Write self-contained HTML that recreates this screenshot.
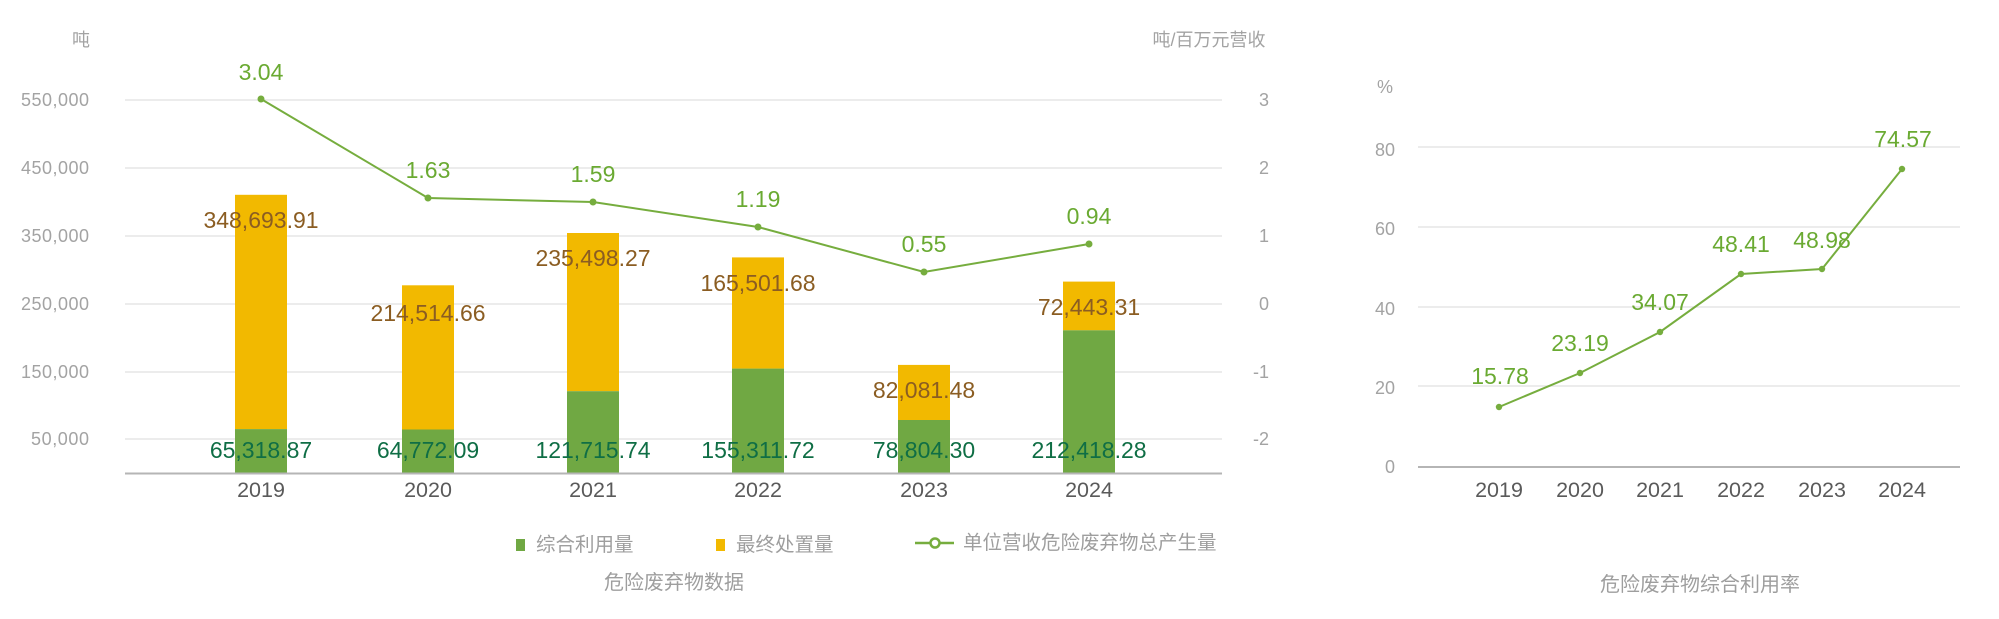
<!DOCTYPE html>
<html><head><meta charset="utf-8"><style>
html,body{margin:0;padding:0;background:#fff;}
svg{display:block;}
text{font-family:"Liberation Sans","Noto Sans CJK SC",sans-serif;}
</style></head><body>
<svg width="1999" height="619" viewBox="0 0 1999 619" xmlns="http://www.w3.org/2000/svg">
<rect width="1999" height="619" fill="#fff"/>
<!-- LEFT CHART gridlines -->
<g stroke="#e6e6e6" stroke-width="1.5">
<line x1="125" y1="100" x2="1222" y2="100"/>
<line x1="125" y1="168" x2="1222" y2="168"/>
<line x1="125" y1="236" x2="1222" y2="236"/>
<line x1="125" y1="304" x2="1222" y2="304"/>
<line x1="125" y1="372" x2="1222" y2="372"/>
<line x1="125" y1="439" x2="1222" y2="439"/>
</g>
<!-- left axis labels -->
<g fill="#a3a3a3" font-size="18" text-anchor="end" dominant-baseline="central">
<text x="90" y="40" font-family="Noto Sans CJK SC, sans-serif">吨</text>
<text x="89" y="100" textLength="68" lengthAdjust="spacing">550,000</text>
<text x="89" y="168" textLength="68" lengthAdjust="spacing">450,000</text>
<text x="89" y="236" textLength="68" lengthAdjust="spacing">350,000</text>
<text x="89" y="304" textLength="68" lengthAdjust="spacing">250,000</text>
<text x="89" y="372" textLength="68" lengthAdjust="spacing">150,000</text>
<text x="89" y="439" textLength="58" lengthAdjust="spacing">50,000</text>
</g>
<!-- right axis labels -->
<g fill="#a3a3a3" font-size="18" text-anchor="middle" dominant-baseline="central">
<text x="1209" y="40" font-family="Liberation Sans, Noto Sans CJK SC, sans-serif">吨/百万元营收</text>
<text x="1264" y="100">3</text>
<text x="1264" y="168">2</text>
<text x="1264" y="236">1</text>
<text x="1264" y="304">0</text>
<text x="1261" y="372">-1</text>
<text x="1261" y="439">-2</text>
</g>
<!-- bars -->
<g>
<rect x="235" y="194.8" width="52" height="234.3" fill="#f2b900"/>
<rect x="235" y="429.1" width="52" height="43.9" fill="#70a843"/>
<rect x="402" y="285.3" width="52" height="144.2" fill="#f2b900"/>
<rect x="402" y="429.5" width="52" height="43.5" fill="#70a843"/>
<rect x="567" y="233" width="52" height="158.2" fill="#f2b900"/>
<rect x="567" y="391.2" width="52" height="81.8" fill="#70a843"/>
<rect x="732" y="257.4" width="52" height="111.2" fill="#f2b900"/>
<rect x="732" y="368.6" width="52" height="104.4" fill="#70a843"/>
<rect x="898" y="364.9" width="52" height="55.1" fill="#f2b900"/>
<rect x="898" y="420" width="52" height="53" fill="#70a843"/>
<rect x="1063" y="281.6" width="52" height="48.7" fill="#f2b900"/>
<rect x="1063" y="330.3" width="52" height="142.7" fill="#70a843"/>
</g>
<!-- x axis -->
<line x1="125" y1="473.5" x2="1222" y2="473.5" stroke="#b5b5b5" stroke-width="2"/>
<g fill="#5a5a5a" font-size="21.5" text-anchor="middle" dominant-baseline="central">
<text x="261" y="490">2019</text>
<text x="428" y="490">2020</text>
<text x="593" y="490">2021</text>
<text x="758" y="490">2022</text>
<text x="924" y="490">2023</text>
<text x="1089" y="490">2024</text>
</g>
<!-- yellow labels -->
<g fill="#8b5d22" font-size="23" text-anchor="middle" dominant-baseline="central">
<text x="261" y="220">348,693.91</text>
<text x="428" y="313">214,514.66</text>
<text x="593" y="258">235,498.27</text>
<text x="758" y="283">165,501.68</text>
<text x="924" y="390">82,081.48</text>
<text x="1089" y="307">72,443.31</text>
</g>
<!-- green labels -->
<g fill="#0f6e45" font-size="23" text-anchor="middle" dominant-baseline="central">
<text x="261" y="450">65,318.87</text>
<text x="428" y="450">64,772.09</text>
<text x="593" y="450">121,715.74</text>
<text x="758" y="450">155,311.72</text>
<text x="924" y="450">78,804.30</text>
<text x="1089" y="450">212,418.28</text>
</g>
<!-- line -->
<polyline points="261,99 428,198 593,202 758,227 924,272 1089,244" fill="none" stroke="#76ad3e" stroke-width="2"/>
<g fill="#76ad3e">
<circle cx="261" cy="99" r="3.5"/><circle cx="428" cy="198" r="3.5"/><circle cx="593" cy="202" r="3.5"/>
<circle cx="758" cy="227" r="3.5"/><circle cx="924" cy="272" r="3.5"/><circle cx="1089" cy="244" r="3.5"/>
</g>
<g fill="#6aaa32" font-size="23" text-anchor="middle" dominant-baseline="central">
<text x="261" y="72">3.04</text>
<text x="428" y="170">1.63</text>
<text x="593" y="174">1.59</text>
<text x="758" y="199">1.19</text>
<text x="924" y="244">0.55</text>
<text x="1089" y="216">0.94</text>
</g>
<!-- legend -->
<rect x="516" y="539" width="9" height="12" fill="#70a843"/>
<rect x="716" y="539" width="9" height="12" fill="#f2b900"/>
<line x1="915" y1="543" x2="954" y2="543" stroke="#76ad3e" stroke-width="2.5"/>
<circle cx="935" cy="543" r="4.5" fill="#fff" stroke="#76ad3e" stroke-width="2.5"/>
<g fill="#9e9e9e" font-size="19.5" dominant-baseline="central" font-family="Noto Sans CJK SC, sans-serif">
<text x="536" y="545">综合利用量</text>
<text x="736" y="545">最终处置量</text>
<text x="963" y="543">单位营收危险废弃物总产生量</text>
<text x="604" y="583" font-size="20">危险废弃物数据</text>
<text x="1600" y="585" font-size="20">危险废弃物综合利用率</text>
</g>

<!-- RIGHT CHART -->
<g stroke="#e6e6e6" stroke-width="1.5">
<line x1="1418" y1="147" x2="1960" y2="147"/>
<line x1="1418" y1="227" x2="1960" y2="227"/>
<line x1="1418" y1="307" x2="1960" y2="307"/>
<line x1="1418" y1="386" x2="1960" y2="386"/>
</g>
<line x1="1418" y1="467" x2="1960" y2="467" stroke="#b5b5b5" stroke-width="2"/>
<g fill="#a3a3a3" font-size="18" text-anchor="end" dominant-baseline="central">
<text x="1393" y="87">%</text>
<text x="1395" y="150">80</text>
<text x="1395" y="229">60</text>
<text x="1395" y="309">40</text>
<text x="1395" y="388">20</text>
<text x="1395" y="467">0</text>
</g>
<g fill="#5a5a5a" font-size="21.5" text-anchor="middle" dominant-baseline="central">
<text x="1499" y="490">2019</text>
<text x="1580" y="490">2020</text>
<text x="1660" y="490">2021</text>
<text x="1741" y="490">2022</text>
<text x="1822" y="490">2023</text>
<text x="1902" y="490">2024</text>
</g>
<polyline points="1499,407 1580,373 1660,332 1741,274 1822,269 1902,169" fill="none" stroke="#76ad3e" stroke-width="2"/>
<g fill="#76ad3e">
<circle cx="1499" cy="407" r="3.2"/><circle cx="1580" cy="373" r="3.2"/><circle cx="1660" cy="332" r="3.2"/>
<circle cx="1741" cy="274" r="3.2"/><circle cx="1822" cy="269" r="3.2"/><circle cx="1902" cy="169" r="3.2"/>
</g>
<g fill="#6aaa32" font-size="23" text-anchor="middle" dominant-baseline="central">
<text x="1500" y="376">15.78</text>
<text x="1580" y="343">23.19</text>
<text x="1660" y="302">34.07</text>
<text x="1741" y="244">48.41</text>
<text x="1822" y="240">48.98</text>
<text x="1903" y="139">74.57</text>
</g>
</svg>
</body></html>
